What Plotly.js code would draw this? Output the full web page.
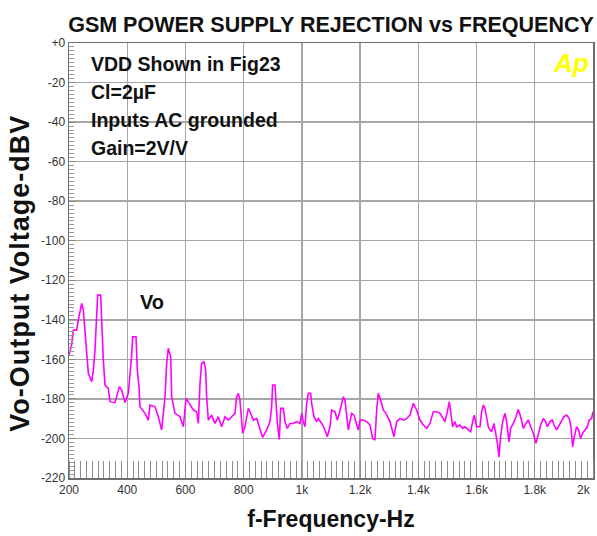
<!DOCTYPE html>
<html>
<head>
<meta charset="utf-8">
<script src="https://cdn.plot.ly/plotly-3.0.1.min.js"></script>
<style>
  html, body { margin: 0; padding: 0; background: #ffffff; }
  #chart { width: 597px; height: 536px; }
  .ytitle { letter-spacing: 1px; }
</style>
</head>
<body>
<div id="chart"></div>
<script>
// Frequency (Hz) of each point of the Vo trace
const freqHz = [
  200, 209, 214.9, 226.3, 232, 243.5, 249.2, 258.4, 266.4, 277.9,
  283.6, 289.3, 295, 298.5, 308.8, 312.2, 317.9, 323.7, 335.1, 340.8,
  358, 372.9, 380.9, 392.4, 403.8, 415.3, 418.7, 430.2, 434.7, 440.5,
  443.9, 461.1, 472.5, 478.2, 495.4, 506.9, 518.3, 529.8, 535.5, 541.2,
  549.3, 552.7, 564.2, 581.3, 592.8, 602, 615.7, 627.1, 638.6, 644.3,
  650, 655.7, 663.7, 669.4, 672.8, 678.5, 690, 701.4, 712.9, 724.3,
  735.8, 747.2, 758.7, 770.1, 775.9, 781.6, 787.3, 796.5, 804.5, 815.9,
  821.7, 833.2, 844.6, 856, 865.2, 879, 890.4, 896.1, 899.6, 907.6,
  911, 915.6, 922.5, 927, 936.2, 941.9, 950, 959.1, 970.6, 982,
  993.5, 999.2, 1004.9, 1010.6, 1016.4, 1022.1, 1030.1, 1033.5, 1041.5, 1050.7,
  1056.4, 1064.4, 1071.3, 1079.3, 1087.3, 1096.5, 1102.2, 1113.7, 1121.7, 1128.6,
  1136.6, 1142.3, 1148, 1153.8, 1159.5, 1165.2, 1170.9, 1178.9, 1188.1, 1193.8,
  1199.6, 1211, 1222.5, 1233.9, 1243.1, 1251.1, 1256.8, 1262.5, 1270.5, 1279.7,
  1288.9, 1302.6, 1316.3, 1325.5, 1337, 1350.7, 1359.9, 1371.3, 1382.8, 1394.2,
  1405.7, 1417.1, 1428.6, 1440, 1451.5, 1462.9, 1474.4, 1483.5, 1491.5, 1499.5,
  1506.4, 1511, 1517.9, 1525.9, 1531.6, 1543, 1552.2, 1560.2, 1571.7, 1579.7,
  1586.6, 1592.3, 1600.3, 1611.8, 1617.5, 1623.2, 1628.9, 1634.7, 1640.4, 1646.1,
  1651.8, 1659.8, 1666.7, 1672.4, 1677, 1682.7, 1689.6, 1697.6, 1703.4, 1711.4,
  1717.1, 1726.3, 1735.4, 1743.4, 1751.4, 1760.6, 1769.8, 1777.8, 1785.8, 1795,
  1804.1, 1812.1, 1820.1, 1829.3, 1837.3, 1843, 1852.2, 1860.2, 1865.9, 1875.1,
  1884.3, 1892.3, 1900.3, 1909.5, 1918.6, 1924.3, 1930.1, 1935.8, 1943.8, 1950.7,
  1957.5, 1964.4, 1972.4, 1980.4, 1987.3, 1995.3, 2000
];

// Vo output voltage (dBV) at each frequency
const voDbv = [
  -157.8, -152.8, -145.2, -145.2, -140.1, -131.7, -135, -151.9, -167.1, -171.3,
  -165.4, -155.3, -140.1, -127.5, -127.5, -140.1, -160.3, -173, -174.7, -181.4,
  -181.9, -173.8, -175.5, -181.9, -177.2, -157.8, -148.6, -148.6, -165.4, -173.8,
  -184, -187.3, -190.7, -183.1, -184, -189, -195.7, -178.9, -162, -154.4,
  -158.7, -178.9, -187.3, -189, -194.1, -179.7, -183.1, -185.6, -186.5, -192.4,
  -172.1, -162, -161.2, -165.4, -178.9, -190.7, -188.2, -192.4, -189, -194.1,
  -189, -190.7, -189, -187.3, -178.9, -177.2, -180.6, -197.4, -194.1, -184.8,
  -186.5, -190.7, -189.9, -195.7, -199.5, -195.7, -191.5, -184, -173, -173,
  -180.6, -192.4, -200.5, -184.8, -184.8, -191.5, -194.9, -192.4, -192.4, -191.5,
  -192.4, -187.3, -191.5, -194.1, -182.3, -177.2, -177.2, -182.3, -189, -191.5,
  -189.9, -191.5, -193.2, -195.7, -199.1, -194.1, -185.6, -186.5, -190.7, -187.3,
  -183.1, -178.9, -180.6, -187.3, -195.7, -191.5, -187.3, -188.2, -193.2, -195.7,
  -190.7, -190.7, -191.5, -193.2, -200, -200.8, -185.6, -177.2, -180.6, -185.6,
  -187.3, -191.5, -199.1, -191.5, -189.9, -190.7, -189.9, -188.2, -182.3, -185.6,
  -190.7, -193.2, -194.9, -192.4, -186.5, -186.5, -187.3, -189.9, -191.5, -186.5,
  -181.4, -186.5, -194.1, -191.5, -194.1, -193.2, -194.9, -194.1, -195.7, -196.6,
  -191.5, -188.2, -194.1, -194.1, -186.5, -183.1, -184.8, -189, -194.1, -195.7,
  -196.6, -192.4, -197.4, -203.3, -209.3, -199.1, -191.5, -187.3, -191.5, -201.7,
  -194.9, -192.4, -189, -185.3, -189, -194.9, -192.4, -190.7, -194.1, -197.4,
  -202.5, -197.4, -193.2, -189.9, -191.5, -194.1, -191.5, -190.7, -193.2, -195.7,
  -193.2, -191.5, -189, -188.2, -189.9, -194.1, -204.2, -199.1, -194.1, -195.7,
  -200, -197.4, -195.7, -194.1, -190.7, -189.9, -186.5
];

// Tick values and labels (the last x label sits flush with the right edge)
const xTickVals = [200, 400, 600, 800, 1000, 1200, 1400, 1600, 1800];
const xTickText = ['200', '400', '600', '800', '1k', '1.2k', '1.4k', '1.6k', '1.8k'];
const xLastTickText = '2k';
const yTickVals = [0, -20, -40, -60, -80, -100, -120, -140, -160, -180, -200, -220];
const yTickText = ['+0', '-20', '-40', '-60', '-80', '-100', '-120', '-140', '-160', '-180', '-200', '-220'];

// Text notes
const noteLines = ['VDD Shown in Fig23', 'Cl=2\u00b5F', 'Inputs AC grounded', 'Gain=2V/V'];
const traceName = 'Vo';

const tickFont = { family: 'Liberation Sans, Arial, sans-serif', size: 12, color: '#333333' };
const gridCol = '#a6a6a6';
const lineCol = '#6e6e6e';

const trace = {
  type: 'scatter',
  mode: 'lines',
  x: freqHz,
  y: voDbv,
  name: traceName,
  line: { color: '#ff00ff', width: 1.6 },
  hoverinfo: 'x+y'
};

const noteY = [0.951, 0.887, 0.823, 0.759];
const annotations = noteLines.map((t, i) => ({
  text: t,
  xref: 'paper', yref: 'paper',
  x: 0.038, y: noteY[i],
  xanchor: 'left', yanchor: 'middle',
  showarrow: false,
  font: { family: 'Liberation Sans, Arial, sans-serif', size: 19.5, color: '#111111', weight: 'bold' }
}));
annotations.push({
  text: traceName,
  xref: 'paper', yref: 'paper',
  x: 0.159, y: 0.405,
  xanchor: 'center', yanchor: 'middle',
  showarrow: false,
  font: { family: 'Liberation Sans, Arial, sans-serif', size: 20, color: '#111111', weight: 'bold' }
});
annotations.push({
  text: 'Ap',
  xref: 'paper', yref: 'paper',
  x: 0.958, y: 0.953,
  xanchor: 'center', yanchor: 'middle',
  showarrow: false,
  font: { family: 'Liberation Sans, Arial, sans-serif', size: 26, color: '#ffff00', weight: 'bold', style: 'italic' }
});
annotations.push({
  text: xLastTickText,
  xref: 'paper', yref: 'paper',
  x: 1, y: -0.027,
  xanchor: 'right', yanchor: 'middle',
  showarrow: false,
  font: tickFont
});

const layout = {
  width: 597,
  height: 536,
  margin: { l: 69, r: 4, t: 43, b: 58, pad: 0 },
  paper_bgcolor: '#ffffff',
  plot_bgcolor: '#ffffff',
  showlegend: false,
  title: {
    text: 'GSM POWER SUPPLY REJECTION vs FREQUENCY',
    font: { family: 'Liberation Sans, Arial, sans-serif', size: 21.5, color: '#111111', weight: 'bold' },
    x: 0.5, xref: 'paper', xanchor: 'center',
    y: 0.955, yref: 'container', yanchor: 'middle'
  },
  xaxis: {
    range: [200, 2000],
    tickmode: 'array',
    tickvals: xTickVals,
    ticktext: xTickText,
    tickfont: tickFont,
    ticks: '',
    showgrid: true,
    gridcolor: gridCol,
    gridwidth: 1.4,
    zeroline: false,
    showline: true,
    linecolor: lineCol,
    linewidth: 1.5,
    mirror: true,
    automargin: false,
    minor: { tick0: 200, dtick: 20, ticks: 'inside', ticklen: 17, tickcolor: '#8c8c8c', tickwidth: 1, showgrid: false },
    title: {
      text: 'f-Frequency-Hz',
      font: { family: 'Liberation Sans, Arial, sans-serif', size: 23, color: '#111111', weight: 'bold' },
      standoff: 15
    }
  },
  yaxis: {
    range: [-220, 0],
    tickmode: 'array',
    tickvals: yTickVals,
    ticktext: yTickText,
    tickfont: tickFont,
    ticks: 'inside',
    ticklen: 7,
    tickcolor: '#8c8c8c',
    showgrid: true,
    gridcolor: gridCol,
    gridwidth: 1.4,
    zeroline: false,
    showline: true,
    linecolor: lineCol,
    linewidth: 1.5,
    mirror: true,
    automargin: false,
    minor: { dtick: 2, ticks: 'inside', ticklen: 5, tickcolor: '#9a9a9a', tickwidth: 1, showgrid: false },
    title: {
      text: 'Vo-Output Voltage-dBV&nbsp;&nbsp;&nbsp;',
      font: { family: 'Liberation Sans, Arial, sans-serif', size: 27, color: '#111111', weight: 'bold' },
      standoff: 3
    }
  },
  annotations: annotations
};

Plotly.newPlot('chart', [trace], layout, { displayModeBar: false, staticPlot: true });
</script>
</body>
</html>
